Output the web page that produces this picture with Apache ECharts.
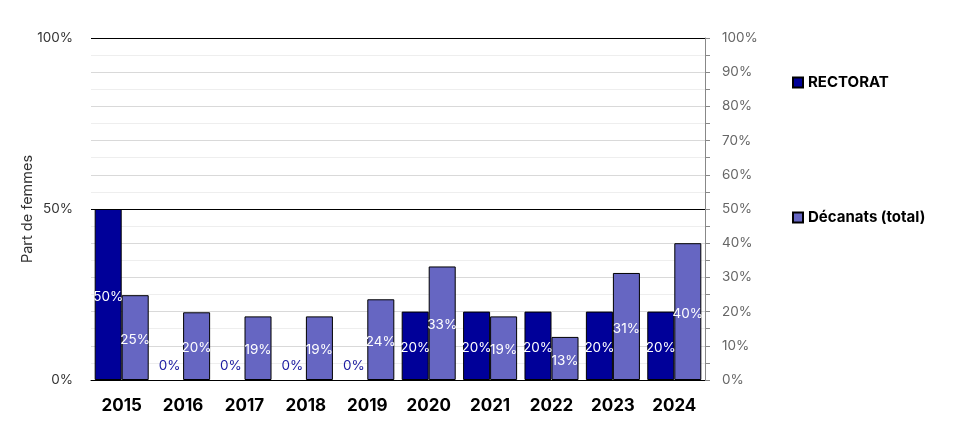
<!DOCTYPE html>
<html><head><meta charset="utf-8">
<script src="https://cdn.jsdelivr.net/npm/echarts@6/dist/echarts.min.js"></script>
<style>html,body{margin:0;padding:0;background:#fff}#c{width:973px;height:447px}</style>
</head><body><div id="c"></div>
<script>
const years = ['2015','2016','2017','2018','2019','2020','2021','2022','2023','2024'];
const rectorat = [50,0,0,0,0,20,20,20,20,20];
const decanats = [24.8,19.8,18.6,18.6,23.6,33.2,18.6,12.6,31.3,40];
const leftTicks = [0,50,100];
const seriesNames = ['RECTORAT','Décanats (total)'];
const colors = ['#000099','#6666c2'];

const FONT = 'Inter, "DejaVu Sans", sans-serif';
function mkData(arr){
  return arr.map(v => v === 0 ? {value:v, itemStyle:{borderWidth:0}, label:{position:'top', distance:9, color:'#1a1aa0'}} : v);
}
const chart = echarts.init(document.getElementById('c'));
chart.setOption({
  animation:false,
  textStyle:{fontFamily:FONT},
  grid:{left:91,right:268,top:38,bottom:67,containLabel:false},
  legend:{orient:'vertical',left:792,top:75,padding:0,itemWidth:10,itemHeight:10,itemGap:120,
    icon:'rect',
    textStyle:{fontFamily:FONT,fontWeight:'bold',fontSize:15,color:'#000'},
    data:seriesNames},
  xAxis:{type:'category',data:years,
    axisLine:{lineStyle:{color:'#000',width:1}},axisTick:{show:false},
    axisLabel:{fontFamily:FONT,fontWeight:'bold',fontSize:17,color:'#000',margin:17}},
  yAxis:[
    {type:'value',min:0,max:100,interval:5,
     name:'Part de femmes',nameLocation:'middle',nameGap:56,nameMoveOverlap:false,
     nameTextStyle:{fontFamily:FONT,fontSize:14.5,color:'#333'},
     axisLine:{show:false},axisTick:{show:false},
     axisLabel:{fontFamily:FONT,fontSize:13.5,color:'#333',margin:18,
       formatter:v=>leftTicks.includes(v)?v+'%':''},
     splitLine:{lineStyle:{color:['#d9d9d9','#eeeeee'],width:1}}},
    {type:'value',min:0,max:100,interval:10,position:'right',
     axisLine:{show:true,lineStyle:{color:'#888'}},
     axisTick:{show:true,length:5,lineStyle:{color:'#888'}},
     minorTick:{show:true,splitNumber:2,length:5,lineStyle:{color:'#888'}},
     axisLabel:{fontFamily:FONT,fontSize:13.5,color:'#666',margin:17,formatter:'{value}%'},
     splitLine:{show:false}}
  ],
  series:[
    {name:seriesNames[0],type:'bar',data:mkData(rectorat),barGap:0,barCategoryGap:'12%',
     itemStyle:{color:colors[0],borderColor:'#000',borderWidth:1},
     label:{show:true,position:'inside',offset:[0,2],color:'#fff',fontFamily:FONT,fontSize:13.5,
       formatter:p=>Math.round(p.value)+'%'},
     markLine:{silent:true,symbol:'none',label:{show:false},
       lineStyle:{color:'#000',width:1,type:'solid'},
       data:[{yAxis:50},{yAxis:100}]},
     z:3},
    {name:seriesNames[1],type:'bar',data:mkData(decanats),barGap:0,barCategoryGap:'12%',
     itemStyle:{color:colors[1],borderColor:'#000',borderWidth:1},
     label:{show:true,position:'inside',offset:[0,2],color:'#fff',fontFamily:FONT,fontSize:13.5,
       formatter:p=>Math.round(p.value)+'%'},
     z:3}
  ]
});
</script></body></html>
